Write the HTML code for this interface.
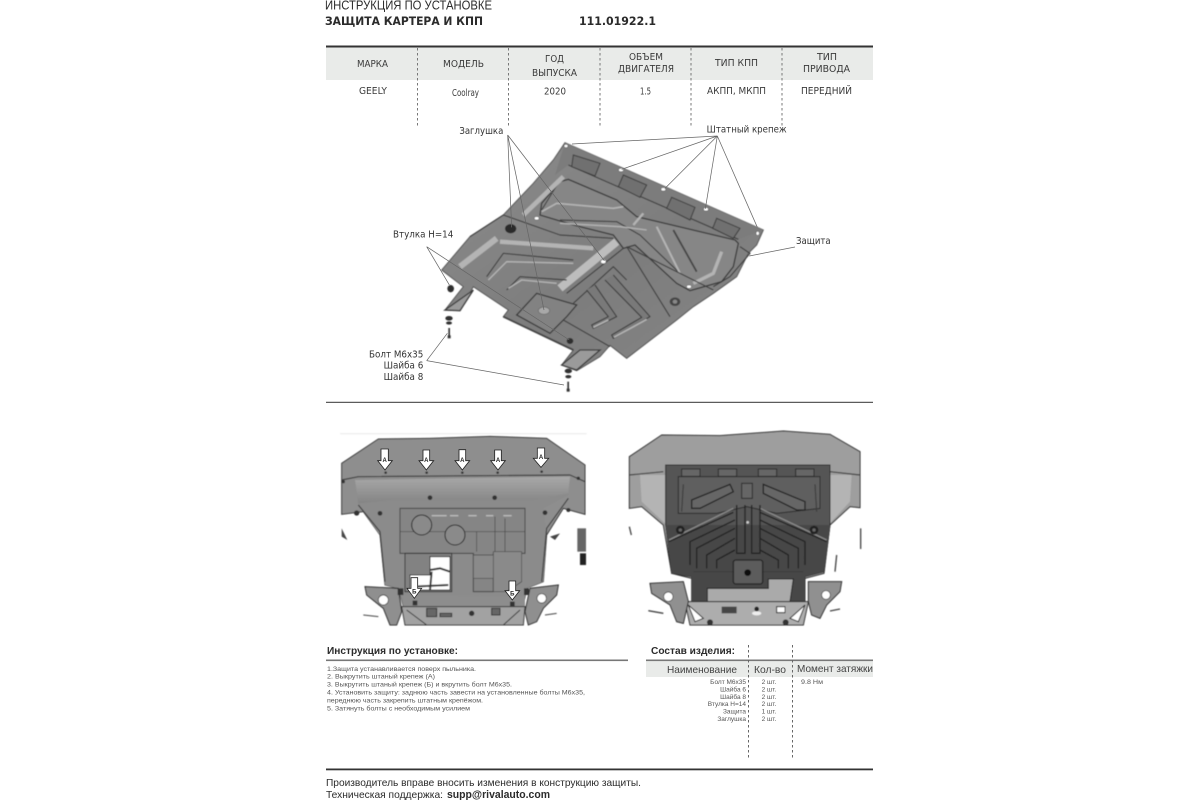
<!DOCTYPE html>
<html lang="ru"><head><meta charset="utf-8"><title>Инструкция по установке</title>
<style>html,body{margin:0;padding:0;background:#fff;width:1200px;height:800px;overflow:hidden}svg{display:block;filter:blur(.35px)}
text{font-family:"Liberation Sans",sans-serif;fill:#2b2b2b}
.d{font-family:"DejaVu Sans",sans-serif;font-size:9.6px;fill:#3a3a3a}
.s{font-size:6.5px;fill:#555}
.l{font-family:"DejaVu Sans",sans-serif;font-size:28.5px;fill:#333}
.ln{stroke:#666;stroke-width:2.2;fill:none}
.dk{fill:none;stroke:#3e3e3e;stroke-width:3.5;stroke-linejoin:round}
.dk2{fill:none;stroke:#444;stroke-width:5.5;stroke-linejoin:round}
.lt{fill:none;stroke:#b4b4b4;stroke-width:7;stroke-linejoin:round}
.ar{fill:#fff;stroke:#222;stroke-width:2.5}
.at{font-size:18px;font-weight:bold;fill:#222;text-anchor:middle}
</style></head><body>
<svg width="1200" height="800" viewBox="0 0 1200 800" xmlns="http://www.w3.org/2000/svg">
<defs><linearGradient id="g1" x1="0" y1="0" x2="1" y2="1"><stop offset="0" stop-color="#8c8c8c"/><stop offset=".55" stop-color="#7d7d7d"/><stop offset="1" stop-color="#868686"/></linearGradient>
<linearGradient id="g2" x1="0" y1="0" x2="0" y2="1"><stop offset="0" stop-color="#a8a8a8"/><stop offset="1" stop-color="#848484"/></linearGradient>
<filter id="b" x="-5%" y="-5%" width="110%" height="110%"><feGaussianBlur stdDeviation="1.6"/></filter></defs>
<rect width="1200" height="800" fill="#fff"/>
<text x="325" y="9.5" font-size="13" textLength="167" lengthAdjust="spacingAndGlyphs">ИНСТРУКЦИЯ ПО УСТАНОВКЕ</text>
<text x="325" y="25" font-size="11.5" font-weight="bold" textLength="158" lengthAdjust="spacingAndGlyphs" style="font-family:'DejaVu Sans',sans-serif">ЗАЩИТА КАРТЕРА И КПП</text>
<text x="579" y="25" font-size="11.5" font-weight="bold" textLength="77" lengthAdjust="spacingAndGlyphs" style="font-family:'DejaVu Sans',sans-serif">111.01922.1</text>

<rect x="326" y="47" width="547" height="33" fill="#e9ebe9"/>
<rect x="326" y="45.5" width="547" height="2" fill="#333"/>
<g stroke="#777" stroke-width="1" stroke-dasharray="2.5 2.5"><path d="M417.5 48V127M508.5 48V127M600 48V127M691 48V127M782 48V127"/></g>
<text class="d" x="357" y="67" textLength="31" lengthAdjust="spacingAndGlyphs">МАРКА</text>
<text class="d" x="443" y="67" textLength="41" lengthAdjust="spacingAndGlyphs">МОДЕЛЬ</text>
<text class="d" x="545" y="62" textLength="19" lengthAdjust="spacingAndGlyphs">ГОД</text>
<text class="d" x="532" y="76" textLength="45" lengthAdjust="spacingAndGlyphs">ВЫПУСКА</text>
<text class="d" x="629" y="60" textLength="34" lengthAdjust="spacingAndGlyphs">ОБЪЕМ</text>
<text class="d" x="618" y="72" textLength="56" lengthAdjust="spacingAndGlyphs">ДВИГАТЕЛЯ</text>
<text class="d" x="715" y="66" textLength="43" lengthAdjust="spacingAndGlyphs">ТИП КПП</text>
<text class="d" x="817" y="60" textLength="20" lengthAdjust="spacingAndGlyphs">ТИП</text>
<text class="d" x="803" y="72" textLength="47" lengthAdjust="spacingAndGlyphs">ПРИВОДА</text>
<text class="d" x="359" y="94" textLength="28" lengthAdjust="spacingAndGlyphs">GEELY</text>
<text class="d" x="452" y="96" textLength="27" lengthAdjust="spacingAndGlyphs">Coolray</text>
<text class="d" x="544" y="94.5" textLength="22" lengthAdjust="spacingAndGlyphs">2020</text>
<text class="d" x="640" y="94.5" textLength="11" lengthAdjust="spacingAndGlyphs">1.5</text>
<text class="d" x="707" y="94" textLength="59" lengthAdjust="spacingAndGlyphs">АКПП, МКПП</text>
<text class="d" x="801" y="94" textLength="51" lengthAdjust="spacingAndGlyphs">ПЕРЕДНИЙ</text>

<g transform="translate(360 120) scale(.33333)">
<g filter="url(#b)">
<path d="M615 68L1210 330L1190 375L1165 400L1130 470L1060 520L1000 560L950 600L800 715L750 676L720 710L650 752L605 735L640 690L430 590L445 570L340 500L300 572L255 570L310 500L245 450L330 350L430 285L520 190L580 120Z" fill="url(#g1)" stroke="#555" stroke-width="3"/>
<path d="M615 68L1210 330L1135 358L625 135L585 165Z" fill="#7c7c7c"/>
<path d="M625 135L1135 358" class="dk"/>
<path d="M640 105L720 130L705 168L635 140ZM790 165L860 195L840 232L775 200ZM935 232L1005 262L990 300L920 265ZM1070 295L1140 325L1120 355L1058 325Z" fill="#707070" stroke="#3a3a3a" stroke-width="3"/>
<path d="M600 185L625 178L770 240L830 290L1125 360L1135 370L1120 440L1085 485L990 512L950 490L825 375L790 385L760 345L640 315L540 285L545 250Z" fill="#868686" stroke="#3a3a3a" stroke-width="4"/>
<path d="M545 275L590 250L760 265L790 260" class="lt" style="stroke-width:5"/>
<path d="M545 270L600 180" class="dk"/>
<path d="M600 300L770 305L840 345L960 460" class="dk"/>
<path d="M600 310L780 320L860 330" class="lt" style="stroke-width:4"/>
<path d="M940 330L1010 455" class="dk2"/>
<path d="M890 320L960 460" class="lt" style="stroke-width:6"/>
<path d="M1085 395L1060 460L1000 490" class="lt" style="stroke-width:10"/>
<path d="M490 285L610 170" class="lt" style="stroke-width:14"/>
<path d="M820 315L850 280" class="lt"/>
<path d="M330 350L430 285L600 345L760 355" class="dk"/>
<path d="M300 440L410 355" class="lt" style="stroke-width:18"/>
<path d="M420 365L700 385" class="lt" style="stroke-width:13"/>
<path d="M600 505L770 365" style="fill:none;stroke:#bdbdbd;stroke-width:24"/>
<path d="M620 520L790 385" class="dk"/>
<path d="M380 470L430 400L640 420" class="dk"/>
<path d="M385 480L440 425L640 430" class="lt" style="stroke-width:4"/>
<path d="M440 510L480 470L620 480" class="dk"/>
<path d="M445 505L485 480L590 490" class="lt" style="stroke-width:4"/>
<path d="M800 380L930 590" class="dk"/>
<path d="M800 380L1060 510" class="dk"/>
<path d="M640 550L760 440L800 480" class="dk"/>
<path d="M705 495L770 590L700 625L695 615L745 590L680 510" class="dk" style="fill:#797979"/>
<path d="M760 465L870 590L760 655L755 645L845 592L735 480" class="dk" style="fill:#797979"/>
<path d="M700 622L745 600M762 652L860 598" class="lt" style="stroke-width:5"/>
<path d="M530 520L650 555L620 590L570 640L470 585Z" fill="#828282" stroke="#3a3a3a" stroke-width="4"/>
<path d="M430 590L640 690" class="dk2"/>
<path d="M610 600L750 680" class="dk"/>
<path d="M255 570L340 510L300 572ZM605 735L660 690L720 690L650 750Z" fill="#9a9a9a" stroke="#3a3a3a" stroke-width="4"/>
<path d="M1140 380L1170 400L1110 470L1060 500" class="dk"/>
<ellipse cx="452" cy="326" rx="17" ry="14" fill="#2c2c2c"/><ellipse cx="945" cy="545" rx="16" ry="13" fill="#444"/><ellipse cx="945" cy="545" rx="7" ry="6" fill="#888"/>
<ellipse cx="552" cy="572" rx="17" ry="11" fill="#a8a8a8" stroke="#666" stroke-width="2"/>
<g fill="#fff" stroke="#444" stroke-width="1.5"><ellipse cx="783" cy="150" rx="7" ry="5"/><ellipse cx="910" cy="208" rx="7" ry="5"/><ellipse cx="1038" cy="268" rx="7" ry="5"/><ellipse cx="1193" cy="340" rx="5" ry="6"/><ellipse cx="618" cy="78" rx="6" ry="5"/><ellipse cx="530" cy="295" rx="7" ry="5"/><ellipse cx="730" cy="425" rx="8" ry="6"/><ellipse cx="987" cy="500" rx="7" ry="5"/></g>
<ellipse cx="272" cy="506" rx="10" ry="11" fill="#2e2e2e"/><ellipse cx="630" cy="663" rx="10" ry="9" fill="#2e2e2e"/>
<g fill="#333"><ellipse cx="267" cy="595" rx="11" ry="7"/><ellipse cx="267" cy="609" rx="9" ry="5"/><ellipse cx="625" cy="753" rx="11" ry="7"/><ellipse cx="625" cy="770" rx="9" ry="5"/><rect x="265" y="624" width="5" height="26"/><rect x="263" y="646" width="9" height="9"/><rect x="622" y="785" width="5" height="24"/><rect x="620" y="806" width="9" height="9"/></g>
</g>
<path class="ln" d="M443 45L455 322M443 45L552 570M443 45L733 422M1072 48L636 72M1072 48L785 148M1072 48L915 205M1072 48L1036 266M1072 48L1192 322M1305 381L1168 408M200 380L268 495M200 380L628 660M200 722L262 640M200 722L612 795"/>
<text class="l" x="298" y="42" textLength="132" lengthAdjust="spacingAndGlyphs">Заглушка</text>
<text class="l" x="1040" y="38" textLength="240" lengthAdjust="spacingAndGlyphs">Штатный крепеж</text>
<text class="l" x="1308" y="372" textLength="104" lengthAdjust="spacingAndGlyphs">Защита</text>
<text class="l" x="99" y="353" textLength="181" lengthAdjust="spacingAndGlyphs">Втулка Н=14</text>
<text class="l" x="27" y="712" textLength="163" lengthAdjust="spacingAndGlyphs">Болт М6х35</text>
<text class="l" x="71" y="746" textLength="119" lengthAdjust="spacingAndGlyphs">Шайба 6</text>
<text class="l" x="71" y="780" textLength="119" lengthAdjust="spacingAndGlyphs">Шайба 8</text>
</g>

<rect x="326" y="401.8" width="547" height="1" fill="#333"/>

<g transform="translate(330 425) scale(.33333)">
<g filter="url(#b)">
<rect x="30" y="24" width="740" height="4" fill="#eee"/>
<path d="M35 115L145 42L300 40L480 34L650 40L765 120L765 268L700 250L650 330L640 470L590 490L580 545L220 545L205 490L165 480L150 330L100 260L35 268Z" fill="#8e8e8e" stroke="#333" stroke-width="3"/>
<path d="M75 165L720 155L715 210L640 250L650 330L640 470L590 490L580 545L220 545L205 490L165 480L150 330L85 240Z" fill="#8b8b8b"/>
<path d="M75 165L720 155L715 205L610 225L190 225L85 235Z" fill="url(#g2)"/>
<path d="M35 165L85 155L720 150L765 170" class="dk"/>
<path d="M85 240L150 320L165 470M715 220L650 310L635 470" class="dk"/>
<path d="M210 250H585V385H490V500H430V385H210Z" fill="#858585" stroke="#444" stroke-width="3"/>
<path d="M305 272H350M360 272H385M415 272H440M468 272H490M520 272H545" stroke="#bbb" stroke-width="4" fill="none"/>
<path d="M210 320H585M440 320V380M495 275V380M525 280V385" stroke="#444" stroke-width="2" fill="none"/>
<circle cx="275" cy="300" r="30" fill="#8a8a8a" stroke="#222" stroke-width="3"/>
<circle cx="375" cy="330" r="30" fill="#8a8a8a" stroke="#222" stroke-width="3"/>
<path d="M225 385H365V500H225Z" fill="#828282" stroke="#333" stroke-width="3"/>
<path d="M430 390H490V460H430ZM490 380H575V470L530 500H490Z" fill="#8a8a8a" stroke="#444" stroke-width="2"/>
<path d="M300 395H360V495H240V450H300Z" fill="#fff" stroke="#222" stroke-width="3"/>
<path d="M300 435L330 430L360 440M250 485L355 480M305 440L300 495" stroke="#333" stroke-width="6" fill="none"/>
<path d="M220 510L585 515V545H220Z" fill="#8d8d8d"/>
<path d="M215 545H585L580 600H225Z" fill="#a2a2a2" stroke="#333" stroke-width="3"/>
<path d="M230 555L290 600M570 555L520 600M290 550H320V575H290ZM330 565H365V575H330ZM485 550H510V570H485Z" stroke="#333" stroke-width="3" fill="#666"/>
<circle cx="425" cy="565" r="8" fill="#333"/>
<path d="M105 485L205 490L215 560L200 600L180 600L160 550L110 510Z" fill="#8f8f8f" stroke="#222" stroke-width="3"/>
<path d="M685 480L600 490L585 560L595 600L620 590L640 550L680 510Z" fill="#8f8f8f" stroke="#222" stroke-width="3"/>
<circle cx="160" cy="525" r="15" fill="#fff" stroke="#222" stroke-width="2"/><circle cx="635" cy="520" r="14" fill="#fff" stroke="#222" stroke-width="2"/>
<path d="M100 570L145 575M645 570L680 565" stroke="#444" stroke-width="3"/>
<path d="M35 310L52 345L35 335ZM660 335L690 325L675 345" fill="#444"/><path d="M742 310H768V380H742Z" fill="#666"/><path d="M750 385H768V420H750Z" fill="#222"/>
<g fill="#333"><circle cx="300" cy="218" r="7"/><circle cx="494" cy="218" r="7"/><circle cx="150" cy="265" r="7"/><circle cx="645" cy="263" r="7"/><circle cx="80" cy="264" r="8"/><circle cx="715" cy="255" r="6"/><circle cx="40" cy="170" r="5"/><circle cx="745" cy="160" r="5"/><circle cx="167" cy="143" r="4"/><circle cx="290" cy="143" r="4"/><circle cx="397" cy="143" r="4"/><circle cx="503" cy="143" r="4"/><circle cx="635" cy="140" r="4"/><rect x="203" y="490" width="17" height="20"/><rect x="582" y="490" width="15" height="20"/><rect x="248" y="527" width="14" height="14"/><rect x="540" y="530" width="14" height="14"/></g>
</g>
<path class="ar" d="M153 72H175V107H187L165 135L143 107H153Z"/><text class="at" x="164" y="111">А</text>
<path class="ar" d="M279 75H299V107H311L289 135L267 107H279Z"/><text class="at" x="289" y="111">А</text>
<path class="ar" d="M387 74H407V107H419L397 135L375 107H387Z"/><text class="at" x="397" y="111">А</text>
<path class="ar" d="M494 75H514V107H526L504 135L482 107H494Z"/><text class="at" x="504" y="111">А</text>
<path class="ar" d="M622 69H644V100H656L633 127L610 100H622Z"/><text class="at" x="633" y="102">А</text>
<path class="ar" d="M243 458H263V490H275L253 520L231 490H243Z"/><text class="at" x="253" y="505">Б</text>
<path class="ar" d="M537 468H557V497H569L547 525L525 497H537Z"/><text class="at" x="547" y="511">Б</text>
</g>

<g transform="translate(620 425) scale(.33333)">
<g filter="url(#b)">
<path d="M28 95L125 30L300 32L490 18L630 28L720 80V248L690 245L630 300L612 445L555 460L215 460L155 445L130 300L65 245L28 250Z" fill="#9e9e9e" stroke="#222" stroke-width="3"/>
<path d="M28 150L130 140M630 140L720 150" class="dk"/>
<path d="M60 150L65 230L135 295V150ZM630 150V295L690 230L695 150Z" fill="#b4b4b4"/>
<path d="M137 120H630V300L612 440L555 455V530H215V455L155 445L137 300Z" fill="#555" stroke="#2a2a2a" stroke-width="3"/>
<path d="M137 300H630V310L612 440L555 455V530H215V455L155 445L137 310Z" fill="#474747"/>
<path d="M175 155H600V250L470 265L380 245L290 265L175 265Z" fill="#5f5f5f" stroke="#2a2a2a" stroke-width="3"/>
<g fill="#666" stroke="#2a2a2a" stroke-width="3"><rect x="185" y="132" width="55" height="22"/><rect x="295" y="132" width="55" height="22"/><rect x="415" y="132" width="55" height="22"/><rect x="527" y="132" width="55" height="22"/><rect x="365" y="175" width="32" height="45"/></g>
<path d="M215 225L330 178L340 200L240 250H215ZM430 178L555 230V255H530L430 205Z" fill="#666" stroke="#222" stroke-width="4"/>
<path d="M190 178L185 260M585 178L590 260" class="dk"/>
<path d="M147 345L340 250M620 345L420 250" stroke="#8a8a8a" stroke-width="4" fill="none"/>
<path d="M147 350L340 262M620 350L420 262M350 240V385H375V240M395 240V385H420V240M210 420V350L345 285M230 430V370L345 310M260 430V390L345 340M290 430V405L345 375M555 420V350L420 285M535 430V370L420 310M505 430V390L420 340M475 430V405L420 375" stroke="#222" stroke-width="4" fill="none"/>
<path d="M220 440H550" class="dk"/>
<rect x="340" y="405" width="88" height="72" rx="8" fill="#5c5c5c" stroke="#222" stroke-width="4"/>
<circle cx="383" cy="443" r="10" fill="#111"/>
<circle cx="181" cy="315" r="13" fill="#222"/><circle cx="181" cy="315" r="5" fill="#666"/><circle cx="582" cy="315" r="13" fill="#222"/><circle cx="582" cy="315" r="5" fill="#666"/>
<circle cx="383" cy="292" r="4" fill="#ccc"/>
<path d="M262 490H445V462H520L510 530H262Z" fill="#aaa" stroke="#222" stroke-width="3"/>
<path d="M195 530H565L550 600H210Z" fill="#adadad" stroke="#222" stroke-width="3"/>
<path d="M205 540L250 580L225 590ZM555 540L510 580L535 590Z" fill="#fff" stroke="#222" stroke-width="3"/>
<rect x="305" y="545" width="45" height="20" fill="#444"/><rect x="470" y="545" width="25" height="18" fill="#fff" stroke="#222" stroke-width="3"/>
<circle cx="410" cy="552" r="7" fill="#222"/><circle cx="270" cy="592" r="9" fill="#333"/><circle cx="497" cy="592" r="9" fill="#333"/>
<ellipse cx="410" cy="565" rx="14" ry="6" fill="#eee"/>
<path d="M90 475L190 470L205 530L190 595L170 590L150 540L95 505Z" fill="#909090" stroke="#222" stroke-width="3"/>
<path d="M665 470L565 470L565 530L575 570L600 580L620 540L660 500Z" fill="#909090" stroke="#222" stroke-width="3"/>
<circle cx="145" cy="515" r="14" fill="#fff" stroke="#222" stroke-width="2"/><circle cx="618" cy="510" r="13" fill="#fff" stroke="#222" stroke-width="2"/>
<path d="M85 557L130 565M630 558L660 552M28 305L34 330M722 310V372M650 390L645 440" stroke="#444" stroke-width="4" fill="none"/>
</g></g>

<text x="327" y="654" font-size="10.5" font-weight="bold" textLength="131" lengthAdjust="spacingAndGlyphs">Инструкция по установке:</text>
<rect x="326" y="659.5" width="302" height="1.6" fill="#777"/>
<text class="s" x="327" y="671" textLength="149" lengthAdjust="spacingAndGlyphs">1.Защита устанавливается поверх пыльника.</text>
<text class="s" x="327" y="678.7" textLength="108" lengthAdjust="spacingAndGlyphs">2. Выкрутить штаный крепеж (А)</text>
<text class="s" x="327" y="686.7" textLength="185" lengthAdjust="spacingAndGlyphs">3. Выкрутить штаный крепеж (Б) и вкрутить болт М6х35.</text>
<text class="s" x="327" y="694.7" textLength="258" lengthAdjust="spacingAndGlyphs">4. Установить защиту: заднюю часть завести на установленные болты М6х35,</text>
<text class="s" x="327" y="702.7" textLength="156" lengthAdjust="spacingAndGlyphs">переднюю часть закрепить штатным крепёжом.</text>
<text class="s" x="327" y="710.7" textLength="143" lengthAdjust="spacingAndGlyphs">5. Затянуть болты с необходимым усилием</text>

<text x="651" y="654" font-size="10.5" font-weight="bold" textLength="84" lengthAdjust="spacingAndGlyphs">Состав изделия:</text>
<rect x="646" y="661" width="227" height="16" fill="#e9ebe9"/>
<rect x="646" y="659.5" width="227" height="1.6" fill="#777"/>
<text x="667" y="673" font-size="10.5" textLength="70" lengthAdjust="spacingAndGlyphs" style="fill:#444">Наименование</text>
<text x="754" y="673" font-size="10.5" textLength="32" lengthAdjust="spacingAndGlyphs" style="fill:#444">Кол-во</text>
<text x="797" y="672" font-size="10.5" textLength="76" lengthAdjust="spacingAndGlyphs" style="fill:#444">Момент затяжки</text>
<g stroke="#666" stroke-width="1" stroke-dasharray="2.5 2.5"><path d="M748.5 645V758M792.5 645V758"/></g>
<g text-anchor="end">
<text class="s" x="746" y="684">Болт М6х35</text>
<text class="s" x="746" y="691.6">Шайба 6</text>
<text class="s" x="746" y="699">Шайба 8</text>
<text class="s" x="746" y="706">Втулка Н=14</text>
<text class="s" x="746" y="713.6">Защита</text>
<text class="s" x="746" y="721">Заглушка</text>
</g>
<g text-anchor="middle">
<text class="s" x="769" y="684">2 шт.</text>
<text class="s" x="769" y="691.6">2 шт.</text>
<text class="s" x="769" y="699">2 шт.</text>
<text class="s" x="769" y="706">2 шт.</text>
<text class="s" x="769" y="713.6">1 шт.</text>
<text class="s" x="769" y="721">2 шт.</text>
</g>
<text class="s" x="801" y="684" textLength="22" lengthAdjust="spacingAndGlyphs">9.8 Нм</text>

<rect x="326" y="768.5" width="547" height="1.8" fill="#333"/>
<text x="326" y="786" font-size="10.5" textLength="315" lengthAdjust="spacingAndGlyphs">Производитель вправе вносить изменения в конструкцию защиты.</text>
<text x="326" y="798" font-size="10.5" textLength="117" lengthAdjust="spacingAndGlyphs">Техническая поддержка:</text>
<text x="447" y="798" font-size="11" font-weight="bold" textLength="103" lengthAdjust="spacingAndGlyphs">supp@rivalauto.com</text>
</svg>
</body></html>
